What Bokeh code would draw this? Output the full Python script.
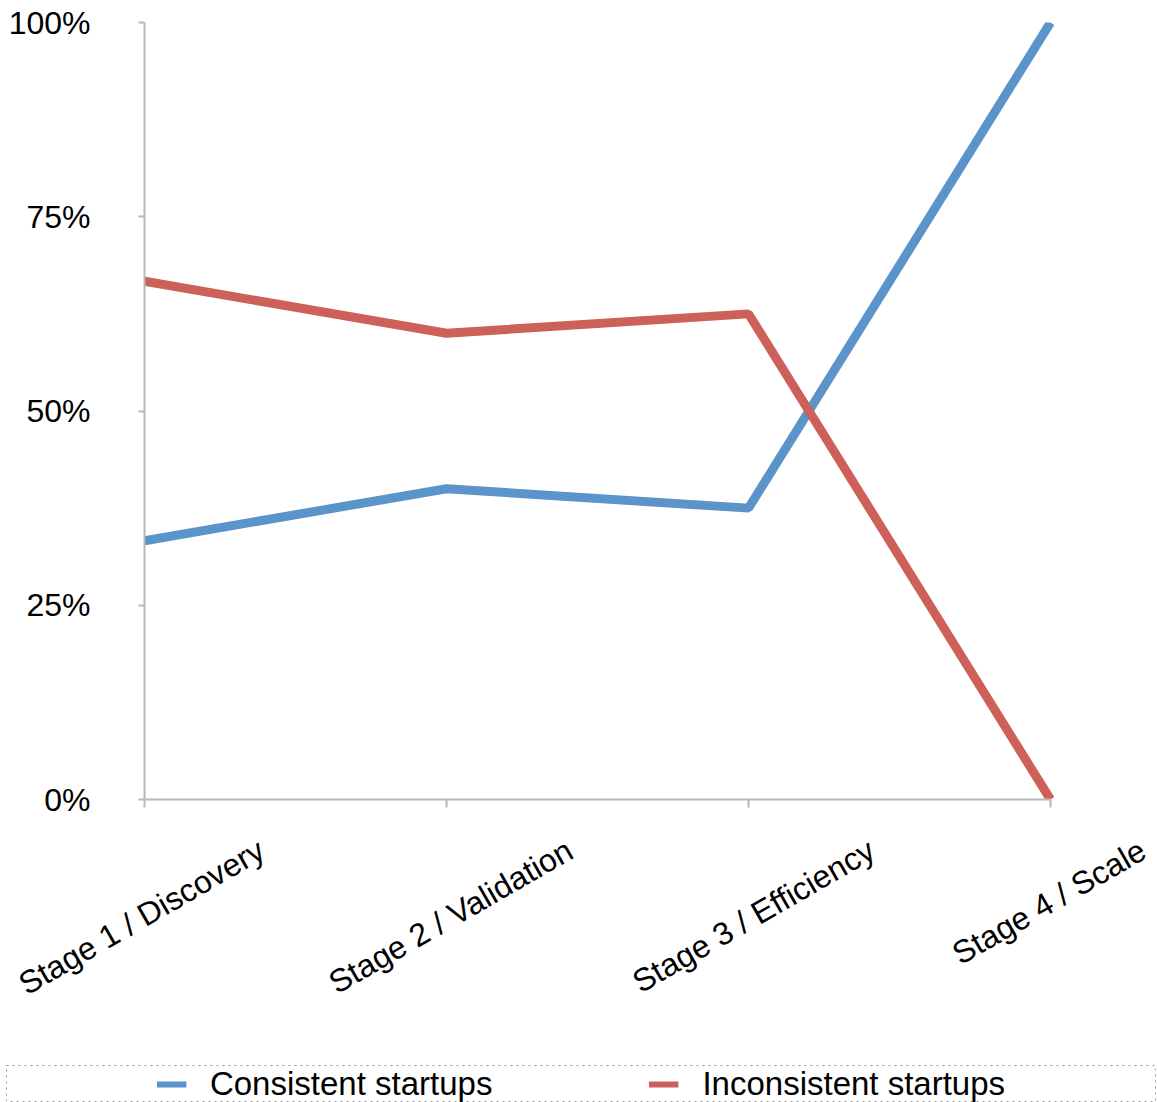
import math
from bokeh.plotting import figure
from bokeh.layouts import column
from bokeh.models import (Range1d, FixedTicker, PrintfTickFormatter, LinearAxis,
                          Legend, LegendItem)
from bokeh.embed import file_html
from bokeh.resources import INLINE

stages = ["Stage 1 / Discovery", "Stage 2 / Validation",
          "Stage 3 / Efficiency", "Stage 4 / Scale"]
consistent = [33.3, 40.0, 37.5, 100.0]
inconsistent = [66.7, 60.0, 62.5, 0.0]
y_ticks = [0, 25, 50, 75, 100]
series_names = ["Consistent startups", "Inconsistent startups"]

FONT = "Liberation Sans"
BLUE = "#5B93CB"
RED = "#CD6058"
AXIS = "#B8B8B8"

W = 1157
MAIN_H, LEG_H = 1065, 37
LEFT, RIGHT, TOP, BOTTOM = 144, 5, 22, 266
CAT_PX = 302.0
frame_w = W - LEFT - RIGHT
n = len(stages)
x_end = frame_w / CAT_PX

p = figure(width=W, height=MAIN_H, output_backend="svg", toolbar_location=None,
           x_range=Range1d(0, x_end), y_range=Range1d(0, 100),
           min_border_left=LEFT, min_border_right=RIGHT, min_border_top=TOP,
           min_border_bottom=BOTTOM, x_axis_location=None)
p.outline_line_color = None
p.grid.visible = False
p.frame_align = False

xs = list(range(n))
p.line(xs, consistent, line_color=BLUE, line_width=9)
p.line(xs, inconsistent, line_color=RED, line_width=9)

ya = p.yaxis[0]
ya.ticker = FixedTicker(ticks=y_ticks)
ya.formatter = PrintfTickFormatter(format="%d%%")
ya.axis_line_color = AXIS
ya.axis_line_width = 2
ya.major_tick_line_color = AXIS
ya.major_tick_line_width = 2
ya.major_tick_in = 0
ya.major_tick_out = 6
ya.minor_tick_line_color = None
ya.major_label_standoff = 48
ya.major_label_text_font = FONT
ya.major_label_text_font_size = "32px"
ya.major_label_text_color = "black"

# x axis: line and tick marks, limited to the stages
xa = LinearAxis(ticker=FixedTicker(ticks=xs), bounds=(0, n - 1))
xa.axis_line_color = AXIS
xa.axis_line_width = 2
xa.major_tick_line_color = AXIS
xa.major_tick_line_width = 2
xa.major_tick_in = 0
xa.major_tick_out = 8
xa.minor_tick_line_color = None
xa.major_label_text_font_size = "1px"
xa.major_label_text_alpha = 0
xa.major_label_standoff = 0
p.add_layout(xa, "below")

# category labels: rotated 30 degrees and centred under each tick
LABEL_PX = 32
char_px = 13.8 * LABEL_PX / 31.0
shifts = [0.433 * char_px * len(s) / CAT_PX for s in stages]
label_ticks = [i + d for i, d in zip(xs, shifts)]
la = LinearAxis(ticker=FixedTicker(ticks=label_ticks),
                major_label_overrides={t: s for t, s in zip(label_ticks, stages)})
la.axis_line_color = None
la.major_tick_line_color = None
la.minor_tick_line_color = None
la.major_tick_in = 0
la.major_tick_out = 0
la.major_label_orientation = math.pi / 6
la.major_label_standoff = 40
la.major_label_text_font = FONT
la.major_label_text_font_size = f"{LABEL_PX}px"
la.major_label_text_color = "black"
p.add_layout(la, "below")

# legend strip with a dotted frame, as in the original
lg = figure(width=W, height=LEG_H, output_backend="svg", toolbar_location=None,
            x_range=Range1d(0, 1), y_range=Range1d(-1000, -999),
            min_border_left=6, min_border_right=2, min_border_top=0,
            min_border_bottom=0, x_axis_location=None, y_axis_location=None)
lg.frame_align = False
lg.grid.visible = False
lg.outline_line_color = "#999999"
lg.outline_line_dash = "dotted"
lg.outline_line_width = 1
k1 = lg.line(xs, consistent, line_color=BLUE, line_width=6)
k2 = lg.line(xs, inconsistent, line_color=RED, line_width=6)
legend = Legend(items=[LegendItem(label=series_names[0], renderers=[k1]),
                       LegendItem(label=series_names[1], renderers=[k2])],
                orientation="horizontal", location="center",
                label_text_font=FONT, label_text_font_size="33px",
                label_text_color="black", glyph_width=30, glyph_height=30,
                label_standoff=24, spacing=156, padding=0, margin=0,
                border_line_color=None, background_fill_alpha=0)
lg.add_layout(legend, "center")

layout = column(p, lg, spacing=0)
open("out.html", "w").write(file_html(layout, INLINE))
